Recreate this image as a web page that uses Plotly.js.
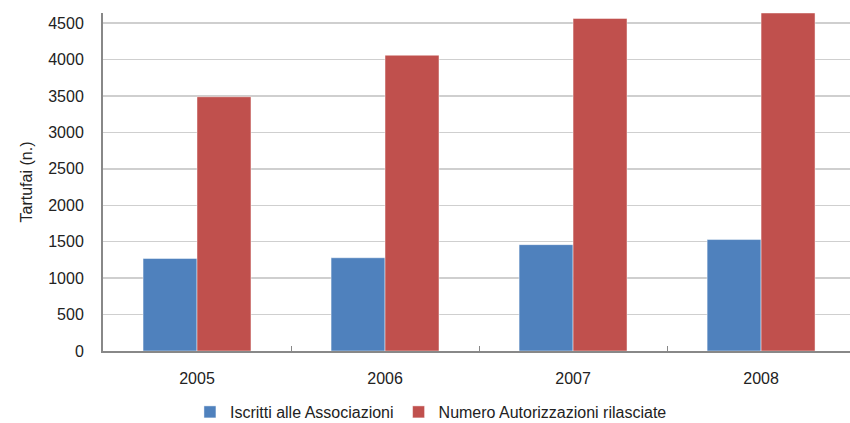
<!DOCTYPE html>
<html>
<head>
<meta charset="utf-8">
<script src="https://cdn.plot.ly/plotly-3.0.1.min.js"></script>
<style>html,body{margin:0;padding:0;background:#fff;}#chart{width:850px;height:423px;}</style>
</head>
<body>
<div id="chart"></div>
<script>
const years = ["2005", "2006", "2007", "2008"];
const iscritti = [1270, 1280, 1460, 1530];
const autorizzazioni = [3490, 4060, 4565, 4640];
const seriesNames = ["Iscritti alle Associazioni", "Numero Autorizzazioni rilasciate"];
const yTicks = [0, 500, 1000, 1500, 2000, 2500, 3000, 3500, 4000, 4500];

const font = {family: "Liberation Sans, Arial, sans-serif", size: 16, color: "#222"};
const edge = {color: "rgba(255,255,255,0.45)", width: 1};

const data = [
  {type: "bar", name: seriesNames[0], x: years, y: iscritti,
   marker: {color: "#4f81bd", line: edge}},
  {type: "bar", name: seriesNames[1], x: years, y: autorizzazioni,
   marker: {color: "#c0504d", line: edge}}
];

const layout = {
  width: 850, height: 423,
  margin: {l: 103, r: 0, t: 13, b: 72},
  paper_bgcolor: "#fff", plot_bgcolor: "#fff",
  font: font,
  barmode: "group", bargap: 0.426, bargroupgap: 0,
  showlegend: true,
  legend: {orientation: "h", xref: "container", yref: "container",
           x: 0.507, xanchor: "center", y: 0.026, yanchor: "middle",
           font: font, itemwidth: 30, tracegroupgap: 0},
  xaxis: {type: "category", range: [-0.5, 3.473],
          showline: true, linecolor: "#888", linewidth: 2,
          ticks: "inside", tickson: "boundaries", ticklen: 5, tickcolor: "#888", tickwidth: 1,
          showgrid: false, tickfont: font, ticklabelstandoff: 12},
  yaxis: {range: [0, 4640], tickvals: yTicks,
          showline: true, linecolor: "#888", linewidth: 2,
          gridcolor: "#cfcfcf", gridwidth: 1.5, zeroline: false,
          ticks: "", tickfont: font, ticklabelstandoff: 14,
          title: {text: "Tartufai (n.)", font: font, standoff: 12}}
};

Plotly.newPlot("chart", data, layout, {displayModeBar: false, staticPlot: true});
</script>
</body>
</html>
